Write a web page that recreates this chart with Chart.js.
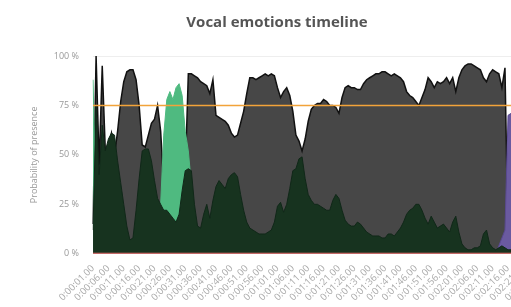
<!DOCTYPE html>
<html>
<head>
<meta charset="utf-8">
<title>Vocal emotions timeline</title>
<script src="https://cdn.jsdelivr.net/npm/chart.js@4/dist/chart.umd.min.js"></script>
<style>
  html, body { margin: 0; padding: 0; background: #fff; overflow: hidden; }
  #wrap { width: 554px; height: 307px; }
</style>
</head>
<body>
<div id="wrap"><canvas id="myChart" width="554" height="307"></canvas></div>
<script>
/*
  • Data
  ---------- ---------- ---------- ---------- ----------
*/

// one sample per second, starting at 0:00:01
const seconds = 148;

const neutral = [
  15, 100, 45, 95, 52, 55, 61, 50, 62, 77,
  87, 92, 93, 93, 88, 75, 55, 54, 60, 66,
  68, 75, 62, 35, 25, 22, 20, 20, 25, 30,
  40, 91, 91, 90, 89, 87, 86, 85, 81, 88,
  70, 69, 68, 67, 65, 61, 59, 60, 66, 72,
  81, 89, 89, 88, 89, 90, 91, 90, 91, 90,
  84, 79, 82, 84, 80, 72, 60, 57, 52, 58,
  67, 73, 75, 76, 76, 78, 77, 75, 75, 74,
  71, 79, 84, 85, 84, 84, 83, 83, 86, 88,
  89, 90, 91, 91, 92, 92, 91, 90, 91, 90,
  89, 87, 82, 80, 79, 77, 75, 79, 83, 89,
  87, 84, 87, 86, 87, 89, 86, 89, 82, 89,
  93, 95, 96, 96, 95, 94, 93, 89, 87, 91,
  93, 92, 91, 84, 94, 5, 18, 8, 6, 5,
  4, 6, 5, 4, 3, 4, 3, 3
];

const sadness = [
  12, 75, 40, 65, 52, 58, 61, 60, 47, 36,
  25, 14, 7, 8, 22, 38, 52, 53, 53, 47,
  37, 28, 25, 22, 22, 20, 18, 16, 20, 32,
  42, 43, 42, 25, 14, 13, 20, 25, 18, 27,
  34, 37, 35, 33, 38, 40, 41, 39, 30, 22,
  16, 13, 12, 11, 10, 10, 10, 11, 12, 16,
  24, 26, 21, 25, 33, 42, 43, 48, 49, 38,
  30, 27, 25, 25, 24, 23, 22, 22, 27, 30,
  28, 22, 17, 15, 14, 14, 16, 15, 13, 11,
  10, 9, 9, 9, 8, 8, 10, 10, 9, 11,
  13, 16, 20, 22, 23, 25, 25, 22, 18, 15,
  19, 16, 13, 14, 15, 13, 11, 16, 19, 11,
  5, 3, 2, 2, 3, 3, 4, 10, 12, 5,
  3, 2, 3, 4, 3, 2, 2, 2, 2, 2,
  2, 2, 2, 2, 2, 2, 2, 2
];

const happiness = [
  88, 20, 10, 10, 10, 10, 10, 10, 10, 10,
  5, 3, 3, 3, 5, 10, 10, 10, 10, 10,
  10, 10, 25, 60, 78, 82, 78, 84, 86, 80,
  62, 52, 35, 10, 8, 8, 8, 8, 8, 8,
  1, 1, 1, 1, 1, 1, 1, 1, 1, 1,
  1, 1, 1, 1, 1, 1, 1, 1, 1, 1,
  1, 1, 1, 1, 1, 1, 1, 1, 1, 1,
  1, 1, 1, 1, 1, 1, 1, 1, 1, 1,
  1, 1, 1, 1, 1, 1, 1, 1, 1, 1,
  1, 1, 1, 1, 1, 1, 1, 1, 1, 1,
  1, 1, 1, 1, 1, 1, 1, 1, 1, 1,
  1, 1, 1, 1, 1, 1, 1, 1, 1, 1,
  1, 1, 1, 1, 1, 1, 1, 1, 1, 1,
  1, 1, 1, 1, 1, 1, 1, 1, 1, 1,
  1, 1, 1, 1, 1, 1, 1, 1
];

const fear = [
  0, 0, 0, 0, 0, 0, 0, 0, 0, 0,
  0, 0, 0, 0, 0, 0, 0, 0, 0, 0,
  0, 0, 0, 0, 0, 0, 0, 0, 0, 0,
  0, 0, 0, 0, 0, 0, 0, 0, 0, 0,
  0, 0, 0, 0, 0, 0, 0, 0, 0, 0,
  0, 0, 0, 0, 0, 0, 0, 0, 0, 0,
  0, 0, 0, 0, 0, 0, 0, 0, 0, 0,
  0, 0, 0, 0, 0, 0, 0, 0, 0, 0,
  0, 0, 0, 0, 0, 0, 0, 0, 0, 0,
  0, 0, 0, 0, 0, 0, 0, 0, 0, 0,
  0, 0, 0, 0, 0, 0, 0, 0, 0, 0,
  0, 0, 0, 0, 0, 0, 0, 0, 0, 0,
  0, 0, 0, 0, 0, 0, 0, 0, 0, 0,
  0, 0, 4, 8, 12, 70, 71, 70, 72, 71,
  70, 69, 70, 71, 72, 70, 71, 70
];

const anger = new Array(seconds).fill(0);
const threshold = new Array(seconds).fill(75);

const yTicks = [0, 25, 50, 75, 100];

// time stamps like 0:00:01.00
function stamp (s) {
  const m = Math.floor(s / 60);
  const sec = s % 60;
  return '0:' + String(m).padStart(2, '0') + ':' + String(sec).padStart(2, '0') + '.00';
}
const times = [];
for (let i = 1; i <= seconds; i++) times.push(stamp(i));

/*
  • Chart
  ---------- ---------- ---------- ---------- ----------
*/

function area (label, data, fillColor, lineColor, width) {
  return {
    label: label,
    data: data,
    fill: 'origin',
    backgroundColor: fillColor,
    borderColor: lineColor,
    borderWidth: width,
    pointRadius: 0,
    tension: 0
  };
}

const ctx = document.getElementById('myChart').getContext('2d');
new Chart(ctx, {
  type: 'line',
  data: {
    labels: times,
    datasets: [
      {
        label: 'Threshold', data: threshold, fill: false,
        borderColor: '#f2a33a', borderWidth: 1.5, pointRadius: 0
      },
      {
        label: 'Anger', data: anger, fill: false,
        borderColor: '#ef6b6b', borderWidth: 2, pointRadius: 0
      },
      area('Sadness', sadness, '#17331f', '#112819', 1),
      area('Happiness', happiness, '#4fba80', '#4fba80', 1),
      area('Fear', fear, '#6a5aa0', '#5a4a90', 1),
      area('Neutral', neutral, '#474747', '#111111', 1.5)
    ]
  },
  options: {
    responsive: false,
    animation: false,
    layout: {
      padding: {left: 0, right: 0, top: 0, bottom: 3}
    },
    plugins: {
      legend: {display: false},
      tooltip: {enabled: false},
      title: {
        display: true,
        text: 'Vocal emotions timeline',
        color: '#555',
        font: {family: 'Open Sans', size: 15, weight: 'bold'},
        padding: {top: 14, bottom: 24}
      }
    },
    scales: {
      x: {
        grid: {display: false},
        border: {display: false},
        ticks: {
          autoSkip: false,
          maxRotation: 45,
          minRotation: 45,
          color: '#aaa',
          font: {family: 'Open Sans', size: 9.5},
          padding: 1,
          callback: function (value, index) {
            return index % 5 === 0 ? times[index] : '';
          }
        }
      },
      y: {
        min: 0,
        max: 100,
        afterBuildTicks: function (axis) {
          axis.ticks = yTicks.map(v => ({value: v}));
        },
        grid: {color: '#eeeeee', drawTicks: false},
        border: {display: false},
        ticks: {
          color: '#999',
          font: {family: 'Open Sans', size: 9},
          padding: 14,
          callback: v => v + ' %'
        },
        title: {
          display: true,
          text: 'Probability of presence',
          color: '#999',
          font: {family: 'Open Sans', size: 9},
          padding: {top: 29, bottom: 0}
        }
      }
    }
  }
});
</script>
</body>
</html>
